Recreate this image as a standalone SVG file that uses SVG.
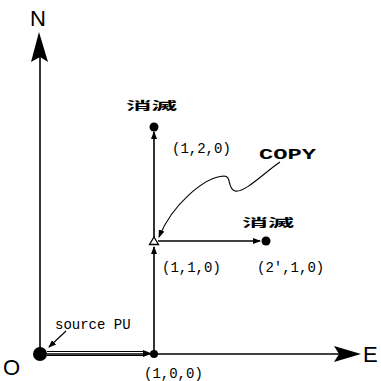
<svg xmlns="http://www.w3.org/2000/svg" width="381" height="381" viewBox="0 0 381 381">
<style>
.ln{stroke:#000;stroke-width:1.6;fill:none}
.thin{stroke:#000;stroke-width:1.1;fill:none}
.mono{font-family:"Liberation Mono","DejaVu Sans Mono",monospace;font-size:14px;fill:#000}
.cjk{font-family:"Noto Sans CJK SC","Noto Sans CJK JP",sans-serif;font-size:11px;font-weight:bold;fill:#000}
.ax{font-family:"Liberation Sans",Arial,sans-serif;font-size:22px;fill:#000}
</style>
<defs>
<marker id="sm" markerWidth="8" markerHeight="6" refX="7" refY="3" orient="auto" markerUnits="userSpaceOnUse">
<path d="M0,0 L8,3 L0,6 Z" fill="#000"/>
</marker>
</defs>
<rect width="381" height="381" fill="#fff"/>
<g id="connectors">
<line class="ln" x1="40" y1="356" x2="40" y2="55"/>
<path d="M39,32 L48,62 L40,57 L31,62 Z" fill="#000"/>
<line class="ln" x1="40" y1="354" x2="340" y2="354"/>
<path d="M361,354 L334,346 L339,354 L334,362 Z" fill="#000"/>
<line class="ln" x1="154" y1="354" x2="154" y2="247" marker-end="url(#sm)"/>
<line class="ln" x1="154" y1="237" x2="154" y2="132" marker-end="url(#sm)"/>
<line class="ln" x1="158" y1="241" x2="260" y2="241" marker-end="url(#sm)"/>
<line class="thin" x1="47" y1="351.5" x2="146" y2="351.5"/>
<line class="thin" x1="47" y1="355.5" x2="146" y2="355.5"/>
<path d="M152,353.5 L143,350 L143,357 Z" fill="#000"/>
<line class="thin" x1="66" y1="331" x2="49" y2="347" marker-end="url(#sm)"/>
<path class="thin" d="M280,162 C265,172 245,193 235,191 C227,189 232,176 224,176 C204,177 172,205 159,237" marker-end="url(#sm)"/>
</g>
<g id="source"><circle cx="40" cy="354" r="7" fill="#000"/></g>
<g id="n100"><circle cx="154" cy="354" r="4" fill="#000"/></g>
<g id="n110"><path d="M154,237 L158.5,244.5 L149.5,244.5 Z" fill="#fff" stroke="#000" stroke-width="1.3"/></g>
<g id="n120"><circle cx="154" cy="127" r="4.5" fill="#000"/></g>
<g id="n210"><circle cx="266" cy="241" r="4.5" fill="#000"/></g>
<g id="labels">
<text class="ax" x="30" y="26">N</text>
<text class="ax" x="3" y="375">O</text>
<text class="ax" x="363" y="362">E</text>
<text class="cjk" x="126" y="110" textLength="51" lengthAdjust="spacingAndGlyphs">消滅</text>
<text class="cjk" x="242" y="227" textLength="52" lengthAdjust="spacingAndGlyphs">消滅</text>
<text class="mono" x="172" y="153">(1,2,0)</text>
<text class="mono" x="259" y="159" font-weight="bold" font-size="15" textLength="57" lengthAdjust="spacingAndGlyphs">COPY</text>
<text class="mono" x="162" y="272">(1,1,0)</text>
<text class="mono" x="257" y="272">(2',1,0)</text>
<text class="mono" x="144" y="378">(1,0,0)</text>
<text class="mono" x="55" y="329" font-size="15">source PU</text>
</g>
</svg>
